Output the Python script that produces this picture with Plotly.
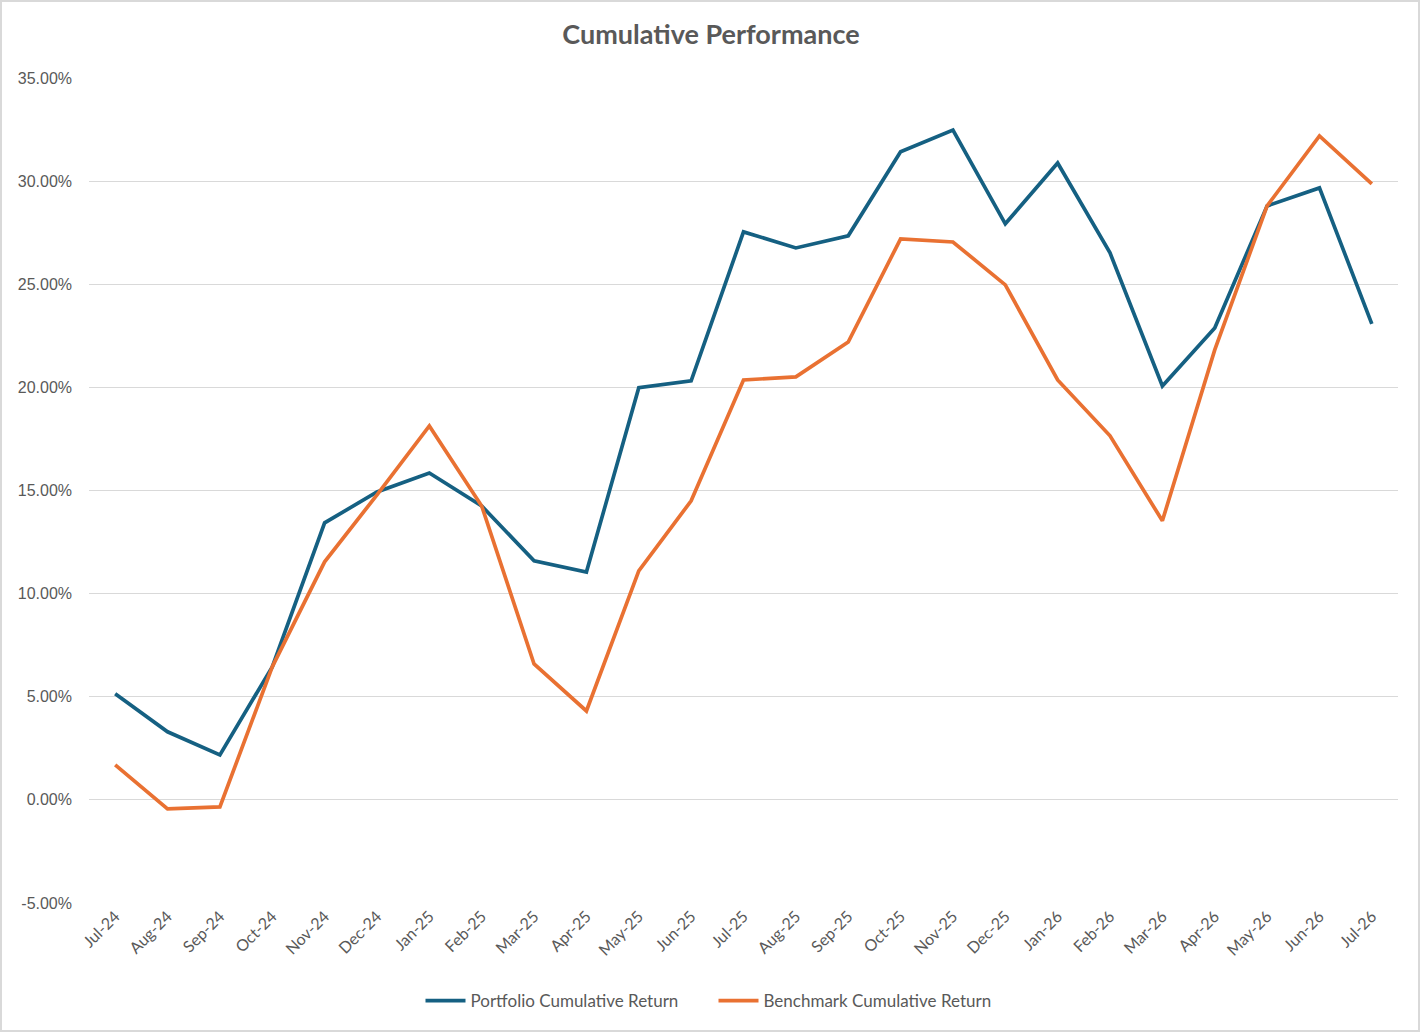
import plotly.graph_objects as go

# month labels on the category axis
months = [
    "Jul-24", "Aug-24", "Sep-24", "Oct-24", "Nov-24", "Dec-24",
    "Jan-25", "Feb-25", "Mar-25", "Apr-25", "May-25", "Jun-25",
    "Jul-25", "Aug-25", "Sep-25", "Oct-25", "Nov-25", "Dec-25",
    "Jan-26", "Feb-26", "Mar-26", "Apr-26", "May-26", "Jun-26", "Jul-26",
]

# cumulative returns (fractions)
portfolio = [
    0.0515, 0.0330, 0.0218, 0.0645, 0.1343, 0.1493,
    0.1585, 0.1425, 0.1159, 0.1105, 0.1998, 0.2032,
    0.2754, 0.2676, 0.2735, 0.3142, 0.3248, 0.2793,
    0.3088, 0.2652, 0.2007, 0.2288, 0.2880, 0.2967, 0.2308,
]
benchmark = [
    0.0170, -0.0044, -0.0034, 0.0645, 0.1154, 0.1479,
    0.1813, 0.1425, 0.0659, 0.0431, 0.1110, 0.1450,
    0.2036, 0.2051, 0.2220, 0.2720, 0.2705, 0.2497,
    0.2036, 0.1765, 0.1353, 0.2182, 0.2880, 0.3219, 0.2987,
]

# y axis ticks
y_ticks = [-0.05, 0.0, 0.05, 0.10, 0.15, 0.20, 0.25, 0.30, 0.35]
y_tick_labels = ["-5.00%", "0.00%", "5.00%", "10.00%", "15.00%",
                 "20.00%", "25.00%", "30.00%", "35.00%"]

BLUE = "#156082"
ORANGE = "#E97132"
GREY_TEXT = "#595959"

fig = go.Figure()
fig.add_trace(go.Scatter(
    x=months, y=portfolio, mode="lines", name="Portfolio Cumulative Return",
    line={"color": BLUE, "width": 3.7},
))
fig.add_trace(go.Scatter(
    x=months, y=benchmark, mode="lines", name="Benchmark Cumulative Return",
    line={"color": ORANGE, "width": 3.7},
))

W, H = 1422, 1033
ml, mr, mt, mb = 89, 24, 78, 130
pw = W - ml - mr
ph = H - mt - mb

fig.update_layout(
    width=W, height=H,
    margin={"l": ml, "r": mr, "t": mt, "b": mb},
    paper_bgcolor="white", plot_bgcolor="white",
    font={"family": "Lato, Liberation Sans, sans-serif", "color": GREY_TEXT},
    title={
        "text": "<b>Cumulative Performance</b>",
        "x": 0.5, "xanchor": "center", "y": 1 - 35 / H, "yanchor": "middle",
        "font": {"size": 27, "color": GREY_TEXT},
    },
    legend={
        "orientation": "h", "x": 0.5 - 30 / pw, "xanchor": "center",
        "y": -0.119, "yanchor": "middle",
        "font": {"size": 17, "color": GREY_TEXT},
        "itemwidth": 40, "tracegroupgap": 0,
        "entrywidth": 238, "entrywidthmode": "pixels",
    },
    showlegend=True,
)

fig.update_xaxes(
    type="category", range=[-0.5, len(months) - 0.5],
    tickangle=-45, showgrid=False, zeroline=False,
    showline=False, ticks="",
    tickfont={"size": 16, "color": GREY_TEXT},
)
fig.update_yaxes(
    range=[-0.05, 0.35], tickmode="array",
    tickvals=y_ticks, ticktext=y_tick_labels,
    showgrid=True, gridcolor="#D9D9D9", gridwidth=1.3,
    zeroline=True, zerolinecolor="#D9D9D9", zerolinewidth=1.3,
    showline=False, ticks="", ticklabelstandoff=16,
    tickfont={"family": "Liberation Sans, Arial, sans-serif", "size": 16, "color": GREY_TEXT},
)

# thin outer frame of the chart area
fig.add_shape(
    type="rect", xref="paper", yref="paper",
    x0=(1 - ml) / pw, x1=(W - 3 - ml) / pw,
    y0=-(mb - 2) / ph, y1=1 + (mt - 1) / ph,
    line={"color": "#D9D9D9", "width": 2}, fillcolor="rgba(0,0,0,0)",
    layer="below",
)

# drop the page's default body margin so the figure sits at the window origin
fig.write_html(
    "out.html",
    config={"displayModeBar": False},
    post_script="document.body.style.margin='0';",
)
